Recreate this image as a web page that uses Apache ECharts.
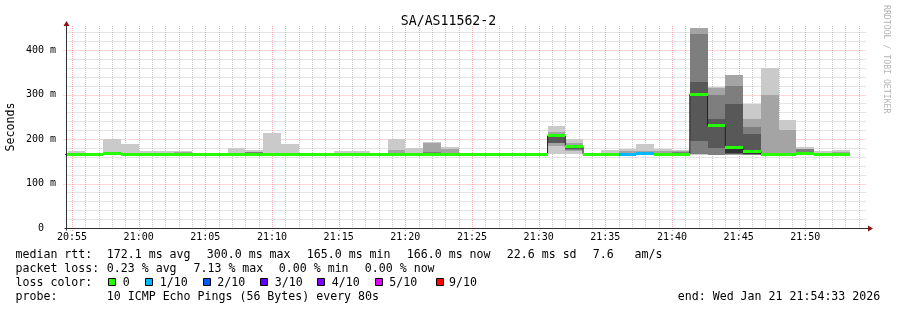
<!DOCTYPE html>
<html><head><meta charset="utf-8">
<script src="https://cdn.jsdelivr.net/npm/echarts@6/dist/echarts.min.js"></script>
<style>html,body{margin:0;padding:0;background:#fff;}#c{width:897px;height:310px;}</style>
</head><body><div id="c"></div>
<script>
// ---------------- data ----------------
const titleText = 'SA/AS11562-2';
const rangeStart = '20:54:33';
const rangeEnd = '21:54:33';
// start time of each 80 s step (step k spans stepStart[k] .. stepStart[k+1])
const stepStart = ['20:53:20','20:54:40','20:56:00','20:57:20','20:58:40','21:00:00','21:01:20','21:02:40','21:04:00','21:05:20',
  '21:06:40','21:08:00','21:09:20','21:10:40','21:12:00','21:13:20','21:14:40','21:16:00','21:17:20','21:18:40',
  '21:20:00','21:21:20','21:22:40','21:24:00','21:25:20','21:26:40','21:28:00','21:29:20','21:30:40','21:32:00',
  '21:33:20','21:34:40','21:36:00','21:37:20','21:38:40','21:40:00','21:41:20','21:42:40','21:44:00','21:45:20',
  '21:46:40','21:48:00','21:49:20','21:50:40','21:52:00','21:53:20'];
// sorted ping round-trip times (ms) per step, ping6 = median
const ping1 = [164.2,164.2,164.2,164.5,164.3,164.2,164.3,164.2,164.2,164.3,164.2,164.2,164.3,164.2,164.2,164.2,164.3,164.2,164.2,164.3,164.2,164.3,164.2,164.2,164.2,164.2,164.2,164.2,165.5,165.5,164.2,164.2,164.3,164.5,164.3,164.3,164.0,164.0,164.5,164.5,164.5,164.5,164.8,164.5,164.3];
const ping2 = [164.6,164.6,164.6,165.0,164.7,164.6,164.7,164.6,164.6,164.7,164.6,164.6,164.7,164.6,164.6,164.6,164.7,164.6,164.6,164.7,164.6,164.7,164.6,164.6,164.6,164.6,164.6,164.6,184.0,174.0,164.6,164.6,164.7,165.0,164.7,164.7,165.5,164.5,165.0,164.8,164.8,164.7,165.2,164.8,164.6];
const ping3 = [164.9,164.9,164.9,165.5,165.0,164.9,165.0,164.9,164.9,165.0,164.9,164.9,165.0,164.9,164.9,164.9,165.0,164.9,164.9,165.0,164.9,165.0,164.9,164.9,164.9,164.9,164.9,164.9,190.0,175.0,164.9,164.9,165.0,165.5,165.0,165.0,167.0,165.0,166.0,165.0,165.0,164.9,165.6,165.0,164.8];
const ping4 = [165.1,165.1,165.1,166.0,165.2,165.1,165.2,165.1,165.1,165.2,165.1,165.1,165.2,165.1,165.1,165.1,165.2,165.1,165.1,165.2,165.1,165.2,165.1,165.1,165.1,165.1,165.1,165.1,192.0,176.5,165.1,165.1,165.3,166.0,165.3,165.3,196.0,179.0,167.0,165.5,165.2,165.0,166.0,165.2,165.0];
const ping5 = [165.3,165.3,165.3,166.5,165.4,165.3,165.4,165.3,165.3,165.4,165.3,165.3,165.4,165.3,165.3,165.3,165.4,165.3,165.3,165.4,165.3,165.4,165.3,165.3,165.3,165.3,165.3,165.3,204.0,179.0,165.3,165.3,165.6,166.5,165.6,165.6,298.0,229.0,169.0,166.0,165.4,165.1,166.5,165.4,165.4];
const ping6 = [165.5,165.5,165.5,167.0,165.6,165.5,165.6,165.5,165.5,165.6,165.5,165.5,165.6,165.5,165.5,165.5,165.6,165.5,165.5,165.6,165.5,165.7,165.5,165.5,165.5,165.5,165.5,165.5,207.0,182.5,165.5,165.5,166.0,167.0,166.0,166.0,300.0,231.0,180.0,172.0,165.6,165.3,167.0,165.8,166.0];
const ping7 = [165.8,165.8,165.8,167.5,165.9,165.8,165.9,165.8,165.8,165.9,165.8,166.0,165.9,165.8,165.8,165.8,165.9,165.8,165.8,165.9,165.8,168.0,165.8,165.8,165.8,165.8,165.8,165.8,209.0,184.5,165.8,165.8,167.0,168.0,166.5,168.0,328.0,246.0,279.0,211.0,165.8,165.6,171.0,166.2,166.3];
const ping8 = [166.2,166.2,166.2,168.0,166.3,166.2,166.3,166.4,166.2,166.3,166.2,170.5,166.3,166.2,166.2,166.2,166.3,166.2,166.2,167.0,166.2,171.0,167.0,166.2,166.2,166.2,166.2,166.2,211.0,186.0,166.2,166.2,168.5,171.0,168.0,171.0,437.0,299.0,319.0,227.0,166.0,166.0,176.5,166.8,166.6];
const ping9 = [166.8,167.0,166.8,169.0,167.0,167.0,167.0,170.5,166.8,166.9,168.0,171.5,168.0,168.0,166.8,166.8,167.0,167.0,166.8,176.0,168.0,191.5,177.5,166.8,166.8,166.8,166.8,166.8,215.0,190.0,166.8,167.0,172.0,174.0,172.0,172.5,449.0,314.0,343.0,245.5,300.0,221.0,177.5,168.0,170.0];
const ping10 = [168.0,173.5,168.0,200.0,189.5,173.5,173.5,172.0,168.0,168.0,180.0,176.0,214.0,189.5,168.0,169.5,173.7,173.7,168.0,200.0,180.0,193.0,182.0,169.0,168.0,168.0,168.0,168.0,229.0,199.0,169.0,176.0,178.0,189.0,177.5,175.0,449.5,317.5,344.5,279.0,359.5,242.0,182.0,174.0,176.0];
// lost pings (of 10) per step
const lossCount = [0,0,0,0,0,0,0,0,0,0,0,0,0,0,0,0,0,0,0,0,0,0,0,0,0,0,0,0,0,0,0,0,1,1,0,0,0,0,0,0,0,0,0,0,0];
const xTickLabels = ['20:55','21:00','21:05','21:10','21:15','21:20','21:25','21:30','21:35','21:40','21:45','21:50'];
const yTickValues = [0,100,200,300,400];
const yTickLabels = ['0','100 m','200 m','300 m','400 m'];
const yMax = 454;
const smokeGrays = ['#cacaca','#a4a4a4','#7e7e7e','#585858','#323232'];
const lossLevels = ['0','1/10','2/10','3/10','4/10','5/10','9/10'];
const lossColors = ['#26ff00','#00b8ff','#0059ff','#5e00ff','#7e00ff','#dd00ff','#ff0000'];
const statsLine1 = ['median rtt:','172.1 ms avg','300.0 ms max','165.0 ms min','166.0 ms now','22.6 ms sd','7.6','am/s'];
const statsLine2 = ['packet loss:','0.23 % avg','7.13 % max','0.00 % min','0.00 % now'];
const probeText = ['probe:','10 ICMP Echo Pings (56 Bytes) every 80s'];
const endText = 'end: Wed Jan 21 21:54:33 2026';
const watermark = 'RRDTOOL / TOBI OETIKER';

// ---------------- build ----------------
function toMin(t){const p=t.split(':').map(Number);return (p[0]-20)*60+p[1]+(p[2]||0)/60;}
const XMIN = toMin(rangeStart), XMAX = toMin(rangeEnd);
const pings = [ping1,ping2,ping3,ping4,ping5,ping6,ping7,ping8,ping9,ping10];
const median = ping6;
const smokeData = [], medData = [], medLine = [];
for (let k=0;k<stepStart.length-1;k++){
  const a = toMin(stepStart[k]), b = toMin(stepStart[k+1]);
  for (let i=0;i<5;i++) smokeData.push([a,b,pings[i][k],pings[9-i][k],i]);
  medData.push([a,b,median[k],lossCount[k]]);
  medLine.push([a,median[k]],[b,median[k]]);
}
const lossIdx = n => n===0?0:n===1?1:n===2?2:n===3?3:n===4?4:n<=8?5:6;
const MONO = 'DejaVu Sans Mono';
const BAND = 3.4;

function snap(v){return Math.round(v);}
function rectItem(api,x0,x1,lo,hi,fill){
  const p0 = api.coord([Math.max(x0,XMIN),hi]), p1 = api.coord([Math.min(x1,XMAX),lo]);
  const X0=snap(p0[0]),X1=snap(p1[0]),Y0=snap(p0[1]),Y1=snap(p1[1]);
  return {type:'rect',shape:{x:X0,y:Y0,width:X1-X0,height:Math.max(Y1-Y0,0)},style:{fill:fill}};
}

const chart = echarts.init(document.getElementById('c'), null, {renderer:'canvas'});
const graphics = [];
function txt(x,y,s,extra){graphics.push(Object.assign({type:'text',x:x,y:y,silent:true,style:{text:s,font:'11.6px "'+MONO+'"',fill:'#000',align:'left',verticalAlign:'middle',textAlign:'left',textVerticalAlign:'middle'}},extra||{}));}
const l1x=[15.5,106.8,206.8,306.8,406.8,506.8,592.8,634.5];
statsLine1.forEach((s,i)=>txt(l1x[i],254.5,s));
const l2x=[15.5,106.8,193.5,278.8,364.8];
statsLine2.forEach((s,i)=>txt(l2x[i],268.5,s));
txt(15.5,282.5,'loss color:');
const boxX=[108.5,145.5,203.5,260.5,317.5,375.5,436.5];
const boxLabX=[122.8,159.8,217.2,274.8,331.8,389.2,449];
lossLevels.forEach((s,i)=>{
  graphics.push({type:'rect',silent:true,shape:{x:boxX[i],y:278.5,width:7,height:7},style:{fill:lossColors[i],stroke:'#000',lineWidth:1}});
  txt(boxLabX[i],282.5,s);
});
txt(15.5,296.5,probeText[0]); txt(106.8,296.5,probeText[1]);
txt(677.8,296.5,endText);
graphics.push({type:'text',x:886,y:5,rotation:-Math.PI/2,silent:true,style:{text:watermark,font:'8.2px "'+MONO+'"',fill:'#b4b4b4',align:'left',verticalAlign:'middle',textAlign:'left',textVerticalAlign:'middle'}});

const option = {
  animation:false,
  backgroundColor:'#ffffff',
  title:{text:titleText,left:'center',top:10,textStyle:{fontFamily:MONO,fontSize:13.2,fontWeight:'normal',color:'#000'}},
  grid:{left:66,top:26,width:800,height:202,containLabel:false,outerBoundsMode:'none'},
  xAxis:{type:'value',min:XMIN,max:XMAX,axisLine:{show:false},axisTick:{show:false},splitLine:{show:false},
    axisLabel:{customValues:xTickLabels.map(toMin),formatter:v=>{const i=xTickLabels.map(toMin).findIndex(m=>Math.abs(m-v)<1e-6);return i>=0?xTickLabels[i]:'';},
      fontFamily:MONO,fontSize:10,color:'#000',margin:4}},
  yAxis:{type:'value',min:0,max:yMax,axisLine:{show:false},axisTick:{show:false},splitLine:{show:false},
    name:'Seconds',nameLocation:'middle',nameGap:49,nameRotate:90,nameMoveOverlap:false,nameTextStyle:{fontFamily:MONO,fontSize:11.6,color:'#000'},
    axisLabel:{customValues:yTickValues,formatter:v=>{const i=yTickValues.indexOf(v);if(i<0)return '';const s=yTickLabels[i];return s.indexOf(' ')<0?s+'\u00a0\u00a0':s;},
      fontFamily:MONO,fontSize:10,color:'#000',margin:10}},
  graphic:graphics,
  series:[
    {type:'custom',name:'grid',z:1,silent:true,data:[[XMIN,0]],
      renderItem:(params,api)=>{
        const ch=[];
        const pTL=api.coord([XMIN,yMax]), pBR=api.coord([XMAX,0]);
        const L=snap(pTL[0])+0.5, T=snap(pTL[1]), R=snap(pBR[0]), B=snap(pBR[1])+0.5;
        const minor='rgba(150,150,150,0.5)', major='rgba(255,90,90,0.5)';
        for(let m=Math.ceil(XMIN);m<=XMAX;m++){ if(m%5===0) continue;
          const x=snap(api.coord([m,0])[0])+0.5; ch.push({type:'line',shape:{x1:x,y1:T,x2:x,y2:B},style:{stroke:minor,lineWidth:1,lineDash:[1,1]}});}
        for(let v=20;v<yMax;v+=20){ if(v%100===0) continue;
          const y=snap(api.coord([XMIN,v])[1])+0.5; ch.push({type:'line',shape:{x1:L,y1:y,x2:R,y2:y},style:{stroke:minor,lineWidth:1,lineDash:[1,1]}});}
        for(let m=Math.ceil(XMIN/5)*5;m<=XMAX;m+=5){
          const x=snap(api.coord([m,0])[0])+0.5; ch.push({type:'line',shape:{x1:x,y1:T,x2:x,y2:B+3},style:{stroke:major,lineWidth:1,lineDash:[1,1]}});}
        for(let v=100;v<yMax;v+=100){
          const y=snap(api.coord([XMIN,v])[1])+0.5; ch.push({type:'line',shape:{x1:L-3,y1:y,x2:R,y2:y},style:{stroke:major,lineWidth:1,lineDash:[1,1]}});}
        return {type:'group',children:ch};
      }},
    {type:'custom',name:'smoke',z:2,silent:true,data:smokeData,encode:{x:[0,1],y:[2,3]},
      renderItem:(params,api)=>rectItem(api,api.value(0),api.value(1),api.value(2),api.value(3),smokeGrays[api.value(4)])},
    {type:'line',name:'median',z:3,silent:true,data:medLine,symbol:'none',lineStyle:{color:'#202020',width:1},clip:true},
    {type:'custom',name:'medianBand',z:4,silent:true,data:medData,encode:{x:[0,1],y:2},
      renderItem:(params,api)=>rectItem(api,api.value(0),api.value(1),api.value(2)-BAND,api.value(2)+BAND,lossColors[lossIdx(api.value(3))])},
    {type:'custom',name:'axes',z:10,silent:true,data:[[XMIN,0]],
      renderItem:(params,api)=>{
        const pTL=api.coord([XMIN,yMax]), pBR=api.coord([XMAX,0]);
        const L=snap(pTL[0])+0.5, T=snap(pTL[1]), R=snap(pBR[0]), B=snap(pBR[1])+0.5;
        const ax='#303030', ar='#8b1010';
        return {type:'group',children:[
          {type:'line',shape:{x1:L-2,y1:B,x2:R+2,y2:B},style:{stroke:ax,lineWidth:1}},
          {type:'line',shape:{x1:L,y1:B+2,x2:L,y2:T},style:{stroke:ax,lineWidth:1}},
          {type:'polygon',shape:{points:[[R+2,B-3],[R+7,B],[R+2,B+3]]},style:{fill:ar}},
          {type:'polygon',shape:{points:[[L-3,T],[L,T-5],[L+3,T]]},style:{fill:ar}}
        ]};
      }}
  ]
};
chart.setOption(option);
</script>
</body></html>
